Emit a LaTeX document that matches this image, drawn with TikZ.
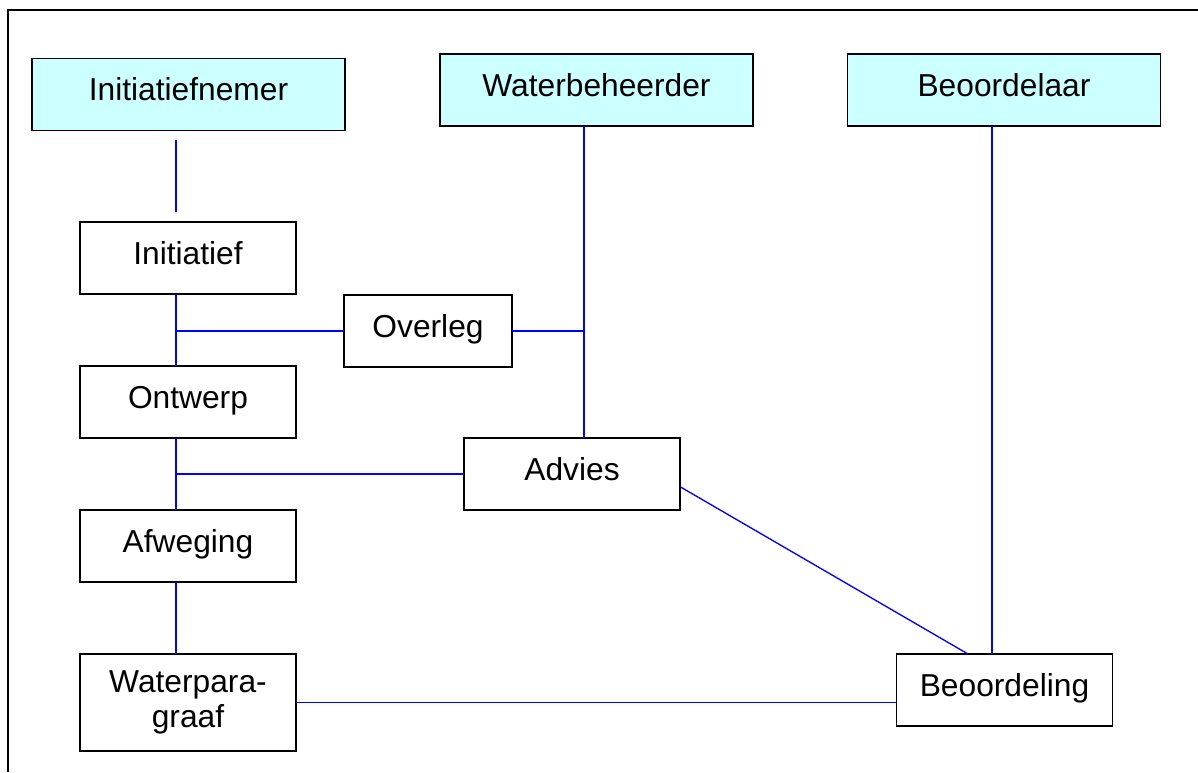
\documentclass[tikz,border=0pt]{standalone}
\usepackage{fontspec}
\setmainfont{Liberation Sans}
\definecolor{boxcyan}{RGB}{204,255,255}
\definecolor{linkblue}{RGB}{0,0,255}
\tikzset{
  box/.style={draw=black, line width=1.1pt, fill=white, rectangle, inner sep=0pt, outer sep=0pt,
    minimum width=162pt, minimum height=54pt, text height=16.5pt, text depth=7.5pt,
    font=\fontsize{23.8}{26.25}\selectfont},
  rolebox/.style={box, fill=boxcyan, minimum width=234.5pt},
  twoline/.style={box, text height=, text depth=, align=center, minimum height=72.75pt},
  link/.style={draw=linkblue, line width=1pt},
  frame/.style={draw=black, line width=1.3pt}
}
\begin{document}
\begin{tikzpicture}[x=0.75pt, y=-0.75pt]
\useasboundingbox (0,0) rectangle (1198,772);
\draw[frame] (1198,10) -- (8,10) -- (8,772);

\node[rolebox] (nemer) at (188.5,94.5) {Initiatiefnemer};
\node[rolebox] (wb) at (596.5,90) {Waterbeheerder};
\node[rolebox] (beo) at (1004,90) {Beoordelaar};

\node[box] (ini) at (188,258) {Initiatief};
\node[box] (ont) at (188,402) {Ontwerp};
\node[box] (afw) at (188,546) {Afweging};
\node[twoline] (wp) at (188,702.5) {Waterpara-\\graaf};
\node[box, minimum width=126pt] (ov) at (428,331) {Overleg};
\node[box] (adv) at (572,474) {Advies};
\node[box] (bdl) at (1004.5,690) {Beoordeling};

\coordinate (n1) at (176,140);
\coordinate (n2) at (176,212);
\coordinate (j1) at (584,331);

\draw[link] (n1) -- (n2);
\draw[link] (ini.south -| n1) -- (ont.north -| n1);
\draw[link] (ov.west) -- (ov.west -| n1);
\draw[link] (ov.east) -- (j1);
\draw[link] (wb.south -| j1) -- (adv.north -| j1);
\draw[link] (ont.south -| n1) -- (afw.north -| n1);
\draw[link] (adv.west) -- (adv.west -| n1);
\draw[link] (afw.south -| n1) -- (wp.north -| n1);
\draw[link] (wp.east) -- (wp.east -| bdl.west);
\draw[link] ([yshift=-9.5pt]adv.east) -- ([xshift=-27.4pt]bdl.north);
\draw[link] ([xshift=-9pt]beo.south) -- ([xshift=-9pt]beo.south |- bdl.north);
\end{tikzpicture}
\end{document}
